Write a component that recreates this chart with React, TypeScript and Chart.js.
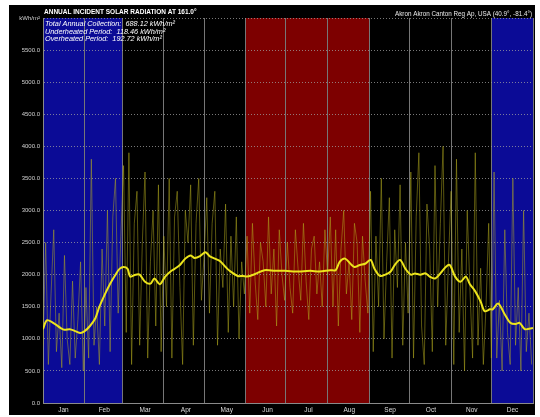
import React, { useEffect, useRef } from "react";
import { Chart, registerables } from "chart.js";

Chart.register(...registerables);

const months = ["Jan", "Feb", "Mar", "Apr", "May", "Jun", "Jul", "Aug", "Sep", "Oct", "Nov", "Dec"];
const monthStarts = [0, 31, 59, 90, 120, 151, 181, 212, 243, 273, 304, 334, 365];
// "cold" = underheated (blue), "hot" = overheated (red), "" = neither
const monthSeason = ["cold", "cold", "", "", "", "hot", "hot", "hot", "", "", "", "cold"];

const yTicks = [0, 500, 1000, 1500, 2000, 2500, 3000, 3500, 4000, 4500, 5000, 5500, 6000];

const titleText = "ANNUAL INCIDENT SOLAR RADIATION AT 161.0°";
const locationText = "Akron Akron Canton Reg Ap, USA (40.9°, -81.4°)";
const infoLines = [
  "Total Annual Collection:  688.12 kWh/m²",
  "Underheated Period:  118.46 kWh/m²",
  "Overheated Period:  192.72 kWh/m²",
];

// daily incident radiation, sampled every second day (day 0, 2, 4, ...)
const dailyValues = [
  // Jan
  900, 2500, 600, 1700, 2700, 800, 1400, 550, 2300, 1000, 600, 1900, 700, 1300, 2200, 500,
  // Feb
  1800, 700, 3800, 900, 1500, 600, 2400, 1200, 3000, 800, 2900, 3500, 1400, 2600,
  // Mar
  3700, 1100, 3900, 600, 2800, 3300, 900, 2500, 3600, 700, 2200, 3000, 1200, 3400, 800, 2600,
  // Apr
  1500, 3500, 700, 2900, 3300, 1800, 600, 3000, 2500, 3400, 900, 2800, 3500, 1600, 2300,
  // May
  3200, 1400, 2800, 3300, 900, 2400, 1800, 3100, 1100, 2600, 1500, 2900, 1000, 2200, 1700,
  // Jun
  2600, 1400, 2800, 1900, 1300, 2500, 2200, 1500, 2900, 1700, 2400, 1200, 2700, 2000, 1600,
  // Jul
  2500, 1800, 1400, 2700, 2100, 1600, 2800, 1900, 1300, 2400, 2600, 1700, 2200, 1500, 2700, 2000,
  // Aug
  2900, 1500, 2700, 1200, 2400, 3000, 1700, 2200, 1300, 2800, 2500, 1100, 2600, 1900, 1400,
  // Sep
  3300, 800, 2600, 1500, 3500, 1000, 2200, 3200, 700, 2700, 1800, 3400, 900, 2500, 1400,
  // Oct
  3600, 700, 2900, 3900, 1200, 600, 3100, 2400, 800, 3700, 1500, 2800, 4000, 900, 2200, 3300,
  // Nov
  600, 3800, 1100, 2400, 500, 3000, 1800, 700, 3900, 900, 2100, 600, 1500, 2800, 700,
  // Dec
  3600, 700, 1600, 500, 2700, 1100, 600, 3500, 900, 1800, 500, 3000, 800, 1400, 600,
];

// smoothed (running average) curve
const smoothDays = [
  0, 3, 9, 13, 16, 20, 24, 28, 31, 35, 39, 42, 46, 50, 54, 57, 60, 63, 65, 69, 72, 76, 80, 83, 87,
  91, 95, 98, 102, 106, 110, 113, 117, 121, 124, 128, 132, 136, 139, 145, 149, 152, 158, 165, 173,
  180, 188, 191, 199, 206, 214, 218, 221, 225, 229, 232, 236, 240, 244, 247, 251, 255, 259, 262,
  266, 270, 274, 277, 281, 285, 288, 292, 296, 300, 303, 307, 311, 315, 318, 322, 326, 329, 333,
  335, 339, 344, 348, 352, 355, 359, 365,
];
const smoothValues = [
  1150, 1290, 1230, 1170, 1140, 1150, 1120, 1090, 1120, 1200, 1320, 1500, 1690, 1860, 2000, 2090,
  2120, 2090, 1970, 2000, 2000, 1890, 1860, 1940, 1850, 1970, 2050, 2090, 2150, 2250, 2300, 2260,
  2290, 2350, 2290, 2250, 2210, 2120, 2060, 1980, 1980, 1970, 2010, 2070, 2060, 2060, 2050, 2050,
  2060, 2050, 2070, 2070, 2200, 2250, 2170, 2120, 2150, 2170, 2230, 2090, 1980, 2000, 2050, 2150,
  2230, 2090, 2000, 2020, 2000, 2020, 1970, 1940, 2020, 2120, 2150, 1970, 1890, 1970, 1850, 1740,
  1580, 1430, 1460, 1460, 1550, 1380, 1250, 1230, 1250, 1150, 1170, 1230, 1150,
];

const backdropPlugin = {
  id: "backdrop",
  beforeDraw(chart: any) {
    const { ctx, chartArea, scales } = chart;
    ctx.save();
    ctx.fillStyle = "#ffffff";
    ctx.fillRect(0, 0, chart.width, chart.height);
    ctx.fillStyle = "#000000";
    ctx.fillRect(9, 5, 526, 410);
    for (let m = 0; m < 12; m++) {
      const s = monthSeason[m];
      if (!s) continue;
      const x0 = scales.x.getPixelForValue(monthStarts[m]);
      const x1 = scales.x.getPixelForValue(monthStarts[m + 1]);
      ctx.fillStyle = s === "cold" ? "#0b0b96" : "#7d0000";
      ctx.fillRect(x0, chartArea.top, x1 - x0, chartArea.bottom - chartArea.top);
    }
    ctx.restore();
  },
  afterDraw(chart: any) {
    const { ctx, chartArea } = chart;
    ctx.save();
    ctx.fillStyle = "#ffffff";
    ctx.textBaseline = "middle";
    ctx.textAlign = "left";
    ctx.font = "bold 6.5px 'Liberation Sans', Arial, sans-serif";
    ctx.fillText(titleText, chartArea.left + 1, 12);
    ctx.textAlign = "right";
    ctx.font = "6.3px 'Liberation Sans', Arial, sans-serif";
    ctx.fillStyle = "#e8e8e8";
    ctx.fillText(locationText, chartArea.right - 1, 14);
    ctx.textAlign = "left";
    ctx.fillStyle = "#ffffff";
    ctx.font = "italic 7.3px 'Liberation Sans', Arial, sans-serif";
    infoLines.forEach((t, i) => ctx.fillText(t, chartArea.left + 2, 24 + i * 7.6));
    ctx.restore();
  },
};

export default function App() {
  const ref = useRef<HTMLCanvasElement | null>(null);

  useEffect(() => {
    document.body.style.margin = "0";
    const canvas = ref.current;
    if (!canvas) return;
    const daily = dailyValues.map((v, i) => ({ x: i * 2, y: v }));
    const smooth = smoothValues.map((v, i) => ({ x: smoothDays[i], y: v }));
    const chart = new Chart(canvas, {
      type: "line",
      data: {
        datasets: [
          {
            data: smooth,
            borderColor: "#ece41c",
            borderWidth: 2,
            pointRadius: 0,
            tension: 0.3,
            xAxisID: "x",
            yAxisID: "y",
          },
          {
            data: daily,
            borderColor: "rgba(180,172,30,0.5)",
            borderWidth: 1,
            pointRadius: 0,
            tension: 0,
            xAxisID: "x",
            yAxisID: "y",
          },
        ],
      },
      options: {
        animation: false,
        responsive: false,
        maintainAspectRatio: false,
        layout: { padding: { left: 0, top: 18, right: 7, bottom: 0 } },
        plugins: { legend: { display: false }, tooltip: { enabled: false } },
        scales: {
          x: {
            type: "linear",
            min: 0,
            max: 365,
            weight: 0,
            afterBuildTicks: (scale: any) => {
              scale.ticks = monthStarts.map((v) => ({ value: v }));
            },
            afterFit: (scale: any) => {
              scale.height = 0;
            },
            ticks: { display: false },
            grid: { color: "#767676", lineWidth: 1, drawTicks: false },
            border: { display: true, color: "#8a8a8a" },
          },
          x2: {
            type: "category",
            labels: months,
            offset: true,
            position: "bottom",
            weight: 1,
            afterFit: (scale: any) => {
              scale.height = 14;
            },
            grid: { display: false, drawTicks: false },
            border: { display: false },
            ticks: {
              color: "#dddddd",
              padding: 3,
              maxRotation: 0,
              autoSkip: false,
              font: { size: 6.5, family: "'Liberation Sans', Arial, sans-serif" },
            },
          },
          y: {
            type: "linear",
            min: 0,
            max: 6000,
            afterBuildTicks: (scale: any) => {
              scale.ticks = yTicks.map((v) => ({ value: v }));
            },
            afterFit: (scale: any) => {
              scale.width = 43;
            },
            ticks: {
              color: "#d0d0d0",
              padding: 3,
              font: { size: 6, family: "'Liberation Sans', Arial, sans-serif" },
              callback: (v: any) => (Number(v) === 6000 ? "kWh/m²" : Number(v).toFixed(1)),
            },
            grid: { color: "rgba(160,160,160,0.75)", lineWidth: 1, drawTicks: false },
            border: { display: true, color: "#8a8a8a", dash: [1, 2] },
          },
        },
      },
      plugins: [backdropPlugin],
    });
    return () => chart.destroy();
  }, []);

  return (
    <div style={{ width: 540, height: 417 }}>
      <canvas ref={ref} width={540} height={417} style={{ display: "block" }} />
    </div>
  );
}
